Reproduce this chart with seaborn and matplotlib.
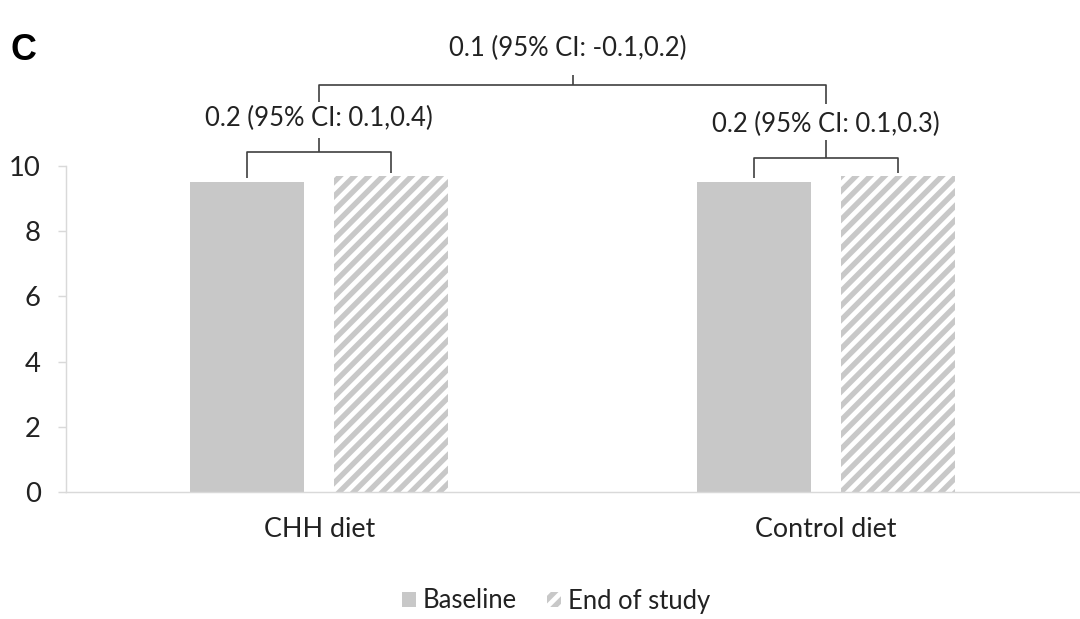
import pandas as pd
import matplotlib.pyplot as plt
import seaborn as sns

# chart values
diets = ["CHH diet", "Control diet"]
periods = ["Baseline", "End of study"]
baseline_vals = [9.5, 9.5]
end_vals = [9.7, 9.7]
within_labels = ["0.2 (95% CI: 0.1,0.4)", "0.2 (95% CI: 0.1,0.3)"]
between_label = "0.1 (95% CI: -0.1,0.2)"

df = pd.DataFrame({
    "diet": diets * 2,
    "period": [periods[0]] * 2 + [periods[1]] * 2,
    "value": baseline_vals + end_vals,
})

DPI = 86
sns.set_theme(style="white")
plt.rcParams['font.family'] = ['Lato', 'DejaVu Sans']
grey = "#c8c8c8"
plt.rcParams['hatch.linewidth'] = 4.5
plt.rcParams['hatch.color'] = grey

fig = plt.figure(figsize=(1080 / DPI, 619 / DPI), dpi=DPI)
ax = fig.add_axes([66 / 1080, 127 / 619, 1013 / 1080, 326 / 619])

sns.barplot(data=df, x="diet", y="value", hue="period", hue_order=periods,
            palette=[grey, "white"], width=0.57, gap=0.21, ax=ax,
            legend=False, saturation=1, linewidth=0)

bars = ax.patches
for b in bars[2:4]:
    b.set_hatch("//")
    b.set_edgecolor(grey)
    b.set_linewidth(0)
    if hasattr(b, "set_hatch_linewidth"):
        b.set_hatch_linewidth(4.5)

txt = "#222222"
ax.set_ylim(0, 10)
ax.set_xlim(-0.5, 1.5)
ax.set_yticks([0, 2, 4, 6, 8, 10])
ax.set_xlabel("")
ax.set_ylabel("")
for s in ["top", "right"]:
    ax.spines[s].set_visible(False)
for s in ["left", "bottom"]:
    ax.spines[s].set_color("#d9d9d9")
    ax.spines[s].set_linewidth(1.2)
ax.tick_params(axis="y", length=7, color="#d9d9d9", width=1.2, pad=14,
               labelsize=23, labelcolor=txt, left=True)
ax.tick_params(axis="x", length=0, pad=21, labelsize=22.5, labelcolor=txt)

line_kw = dict(color="#404040", lw=1.4, clip_on=False, solid_capstyle="butt")

# within-diet brackets
hbar = [10.43, 10.25]
htick = [10.86, 10.8]
hlab = [11.45, 11.26]
for i in range(2):
    b0, b1 = bars[i], bars[i + 2]
    x0 = b0.get_x() + b0.get_width() / 2
    x1 = b1.get_x() + b1.get_width() / 2
    ax.plot([x0, x0, x1, x1],
            [baseline_vals[i] + 0.12, hbar[i], hbar[i], end_vals[i] + 0.07], **line_kw)
    xm = (x0 + x1) / 2
    ax.plot([xm, xm], [hbar[i], htick[i]], **line_kw)
    ax.text(xm, hlab[i], within_labels[i], ha="center", va="center",
            fontsize=21.5, color=txt, clip_on=False)

# between-diet bracket
ax.plot([0, 0, 1, 1], [11.96, 12.48, 12.48, 11.9], **line_kw)
ax.plot([0.5, 0.5], [12.48, 12.79], **line_kw)
ax.text(0.49, 13.6, between_label, ha="center", va="center",
        fontsize=21.5, color=txt, clip_on=False)

fig.text(10 / 1080, 1 - 50 / 619, "C", fontsize=30, fontweight="bold",
         family="Liberation Sans", va="center", ha="left", color="black")

handles = [plt.Rectangle((0, 0), 1, 1, facecolor=grey, edgecolor="none"),
           plt.Rectangle((0, 0), 1, 1, facecolor="white", hatch="//", edgecolor=grey, lw=0)]
fig.legend(handles, periods, loc="center", bbox_to_anchor=(556 / 1080, 1 - 601 / 619),
           ncol=2, frameon=False, fontsize=21.5, handlelength=0.55, handleheight=0.55,
           handletextpad=0.25, columnspacing=1.2, labelcolor=txt)

fig.savefig("out.png", dpi=DPI)
